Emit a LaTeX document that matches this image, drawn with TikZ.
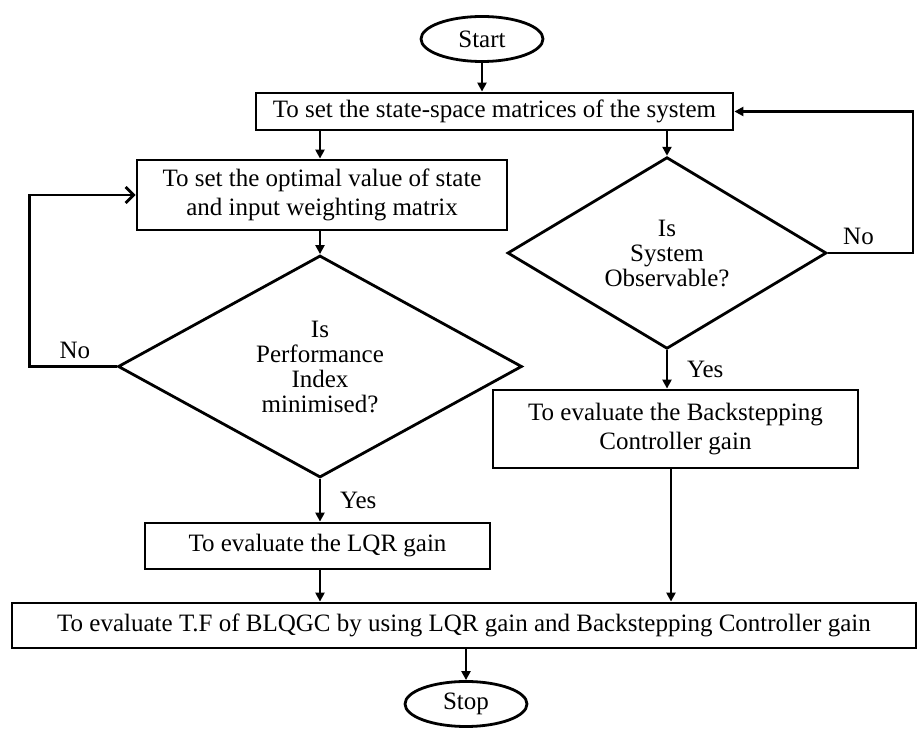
\documentclass[tikz,border=0pt]{standalone}
\usepackage{fontspec}
\setmainfont{Liberation Serif}
\usetikzlibrary{arrows.meta,shapes.geometric}

\begin{document}
\begin{tikzpicture}[x=0.5pt,y=-0.5pt,
  line width=1.4pt,
  every node/.style={font=\fontsize{12.5}{14.5}\selectfont},
  box/.style={draw, rectangle, inner sep=0pt, align=center},
  term/.style={draw, ellipse, inner sep=0pt, minimum width=61pt, minimum height=22.5pt},
  cond/.style={draw, diamond, inner sep=0pt, align=center, font=\fontsize{12.5}{12.5}\selectfont},
  arr/.style={-{Triangle[length=4.5pt,width=4.5pt]}},
  back/.style={-{Straight Barb[length=4pt,width=8pt]}}]

\def\width{917}
\def\height{731}
\path [use as bounding box] (0,0) rectangle (\width,\height);

% SHAPES
\node [term] (start) at (482,39) {Start};
\node [box, minimum width=238.5pt, minimum height=18.5pt] (setss) at (494.5,111.5) {To set the state-space matrices of the system};
\node [box, minimum width=185pt, minimum height=35pt] (optim) at (322,195) {To set the optimal value of state\\and input weighting matrix};
\node [cond, minimum width=202pt, minimum height=111pt] (perf) at (320,366.5) {Is\\Performance\\Index\\minimised?};
\node [cond, minimum width=159.5pt, minimum height=91pt] (obsv) at (667,253) {Is\\System\\Observable?};
\node [box, minimum width=172.5pt, minimum height=23pt] (lqr) at (317.5,546) {To evaluate the LQR gain};
\node [box, minimum width=182.5pt, minimum height=39pt] (backs) at (675.5,429) {To evaluate the Backstepping\\Controller gain};
\node [box, minimum width=452pt, minimum height=22.5pt] (tf) at (464,625.5) {To evaluate T.F of BLQGC by using LQR gain and Backstepping Controller gain};
\node [term] (stop) at (466,704) {Stop};

% ARROWS
\draw [arr] (start.south) -- (start.south |- setss.north);
\draw [arr] (setss.south -| perf.north) -- (perf.north |- optim.north);
\draw [arr] (setss.south -| obsv.north) -- (obsv.north);
\draw [arr] (perf.north |- optim.south) -- (perf.north);
\draw [arr] (perf.south) -- node[right=6pt] {Yes} (perf.south |- lqr.north);
\draw [arr] (obsv.south) -- node[right=6pt] {Yes} (obsv.south |- backs.north);
\draw [arr] (lqr.south -| perf.south) -- (perf.south |- tf.north);
\draw [arr] (backs.south -| 671,0) -- (671,0 |- tf.north);
\draw [arr] (tf.south -| stop.north) -- (stop.north);

% LOOPS
\draw [back] (perf.west) -- node[above, pos=0.48] {No} ++(-87,0) |- (optim.west);
\draw [arr] (obsv.east) -- node[above, pos=0.36] {No} ++(85,0) |- (setss.east);

\end{tikzpicture}
\end{document}
